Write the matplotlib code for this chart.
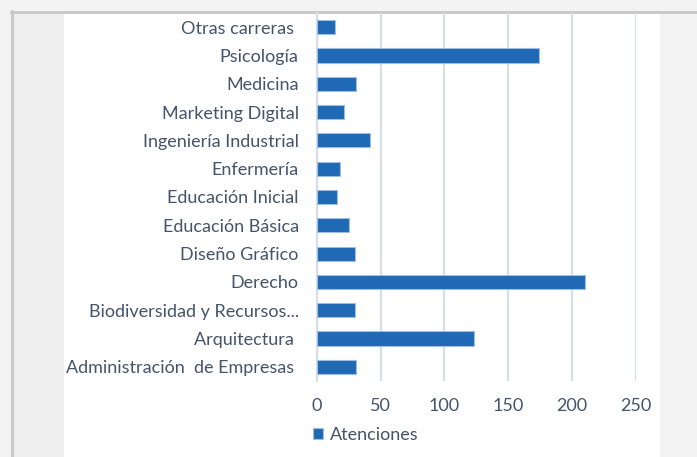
import numpy as np
import matplotlib
matplotlib.use("Agg")
import matplotlib.pyplot as plt
from matplotlib.patches import Rectangle
from matplotlib.lines import Line2D

# attentions per career (bottom to top on the chart)
carreras = [
    "Administración  de Empresas ",
    "Arquitectura ",
    "Biodiversidad y Recursos...",
    "Derecho",
    "Diseño Gráfico",
    "Educación Básica",
    "Educación Inicial",
    "Enfermería",
    "Ingeniería Industrial",
    "Marketing Digital",
    "Medicina",
    "Psicología",
    "Otras carreras ",
]
atenciones = [31, 123, 30, 210, 30, 25, 16, 18, 42, 21, 31, 174, 14]
x_ticks = [0, 50, 100, 150, 200, 250]

W, H = 697, 457
TEXT = "#44546a"
BAR = "#1f69b5"
GRID = "#d6dee6"
FS = 13

plt.rcParams["font.family"] = ["Lato", "DejaVu Sans"]

fig = plt.figure(figsize=(W / 100, H / 100), dpi=100)
fig.patch.set_facecolor("#f3f3f3")


def px_rect(x0, y0, x1, y1, **kw):
    # rectangle given in pixel coords (origin top-left)
    fig.patches.append(Rectangle((x0 / W, 1 - y1 / H), (x1 - x0) / W, (y1 - y0) / H,
                                 transform=fig.transFigure, figure=fig, zorder=-5, **kw))


# panel frame and white chart area
px_rect(12, 12, 64, H, facecolor="#eeeeee", edgecolor="none")
px_rect(64, 12, 660, H, facecolor="white", edgecolor="none")
fig.lines.append(Line2D([11 / W, 1], [1 - 11.5 / H] * 2, transform=fig.transFigure,
                        color="#c6c6c6", lw=2, zorder=-4))
fig.lines.append(Line2D([11.5 / W] * 2, [0, 1 - 11 / H], transform=fig.transFigure,
                        color="#c6c6c6", lw=2, zorder=-4))

ax = fig.add_axes([316.7 / W, 1 - 381 / H, (636 - 316.7) / W, (381 - 13) / H])
ax.set_facecolor("none")

y = np.arange(len(carreras))
ax.barh(y, atenciones, height=0.5, color=BAR, edgecolor="#9dbde3", linewidth=0.8,
        label="Atenciones", zorder=3)

ax.set_xlim(0, 250)
ax.set_ylim(-0.5, len(carreras) - 0.5)
ax.set_xticks(x_ticks)
ax.set_yticks(y)
ax.set_yticklabels(carreras)
ax.tick_params(axis="y", length=0, pad=13, labelsize=FS, labelcolor=TEXT)
ax.tick_params(axis="x", length=0, pad=12, labelsize=FS, labelcolor=TEXT)

ax.grid(axis="x", color=GRID, linewidth=1.6, zorder=0)
for s in ["top", "right", "bottom"]:
    ax.spines[s].set_visible(False)
ax.spines["left"].set_color(GRID)
ax.spines["left"].set_linewidth(1.6)

leg = ax.legend(loc="center left", bbox_to_anchor=(297 / W, 1 - 435 / H),
                bbox_transform=fig.transFigure, frameon=False, fontsize=FS,
                handlelength=0.55, handleheight=0.55, handletextpad=0.35,
                labelcolor=TEXT)

fig.savefig("out.png", dpi=100, facecolor=fig.get_facecolor())
